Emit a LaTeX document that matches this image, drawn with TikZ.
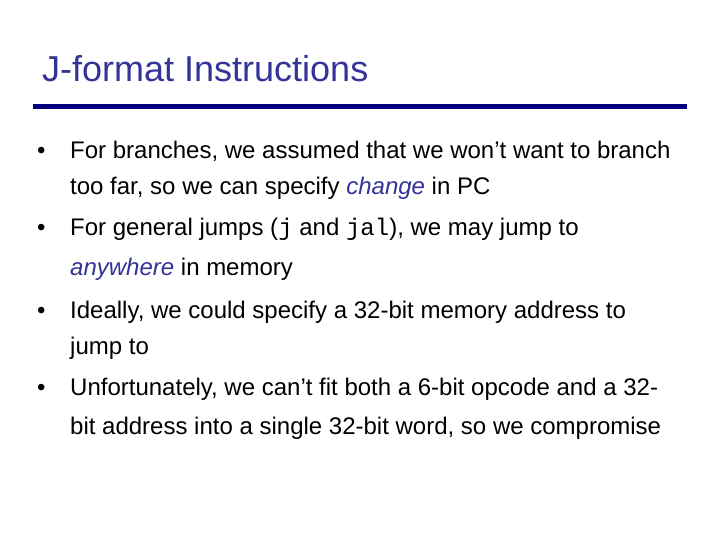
\documentclass[tikz,border=0pt]{standalone}
\usepackage{fontspec}
\setmainfont{Liberation Sans}
\setmonofont{Liberation Mono}
\definecolor{ttl}{HTML}{333399}
\definecolor{rul}{HTML}{000080}
\begin{document}
\begin{tikzpicture}[x=1pt,y=-1pt,
  txt/.style={anchor=base west,inner sep=0pt,font=\fontsize{24}{28}\selectfont},
  bul/.style={anchor=base west,inner sep=0pt,font=\fontsize{24}{28}\selectfont}]
\useasboundingbox (0,0) rectangle (720,540);
\node[anchor=base west,inner sep=0pt,text=ttl,font=\fontsize{36}{42}\selectfont] (title) at (42,82) {J-format Instructions};
\coordinate (r1) at (33,107); \coordinate (r2) at (687,107);
\draw[rul,line width=5pt] (r1) -- (r2);
\node[bul] (b1) at (37,159) {•};
\node[txt] (t1) at (70,159) {For branches, we assumed that we won’t want to branch};
\node[txt] (t1b) at (70,195) {too far, so we can specify \textcolor{ttl}{\itshape change} in PC};
\node[bul] (b2) at (37,236) {•};
\node[txt] (t2) at (70,236) {For general jumps (\texttt{j} and \texttt{jal}), we may jump to};
\node[txt] (t2b) at (70,275) {\textcolor{ttl}{\itshape anywhere} in memory};
\node[bul] (b3) at (37,318) {•};
\node[txt] (t3) at (70,318) {Ideally, we could specify a 32-bit memory address to};
\node[txt] (t3b) at (70,354) {jump to};
\node[bul] (b4) at (37,395) {•};
\node[txt] (t4) at (70,395) {Unfortunately, we can’t fit both a 6-bit opcode and a 32-};
\node[txt] (t4b) at (70,434) {bit address into a single 32-bit word, so we compromise};
\end{tikzpicture}
\end{document}
